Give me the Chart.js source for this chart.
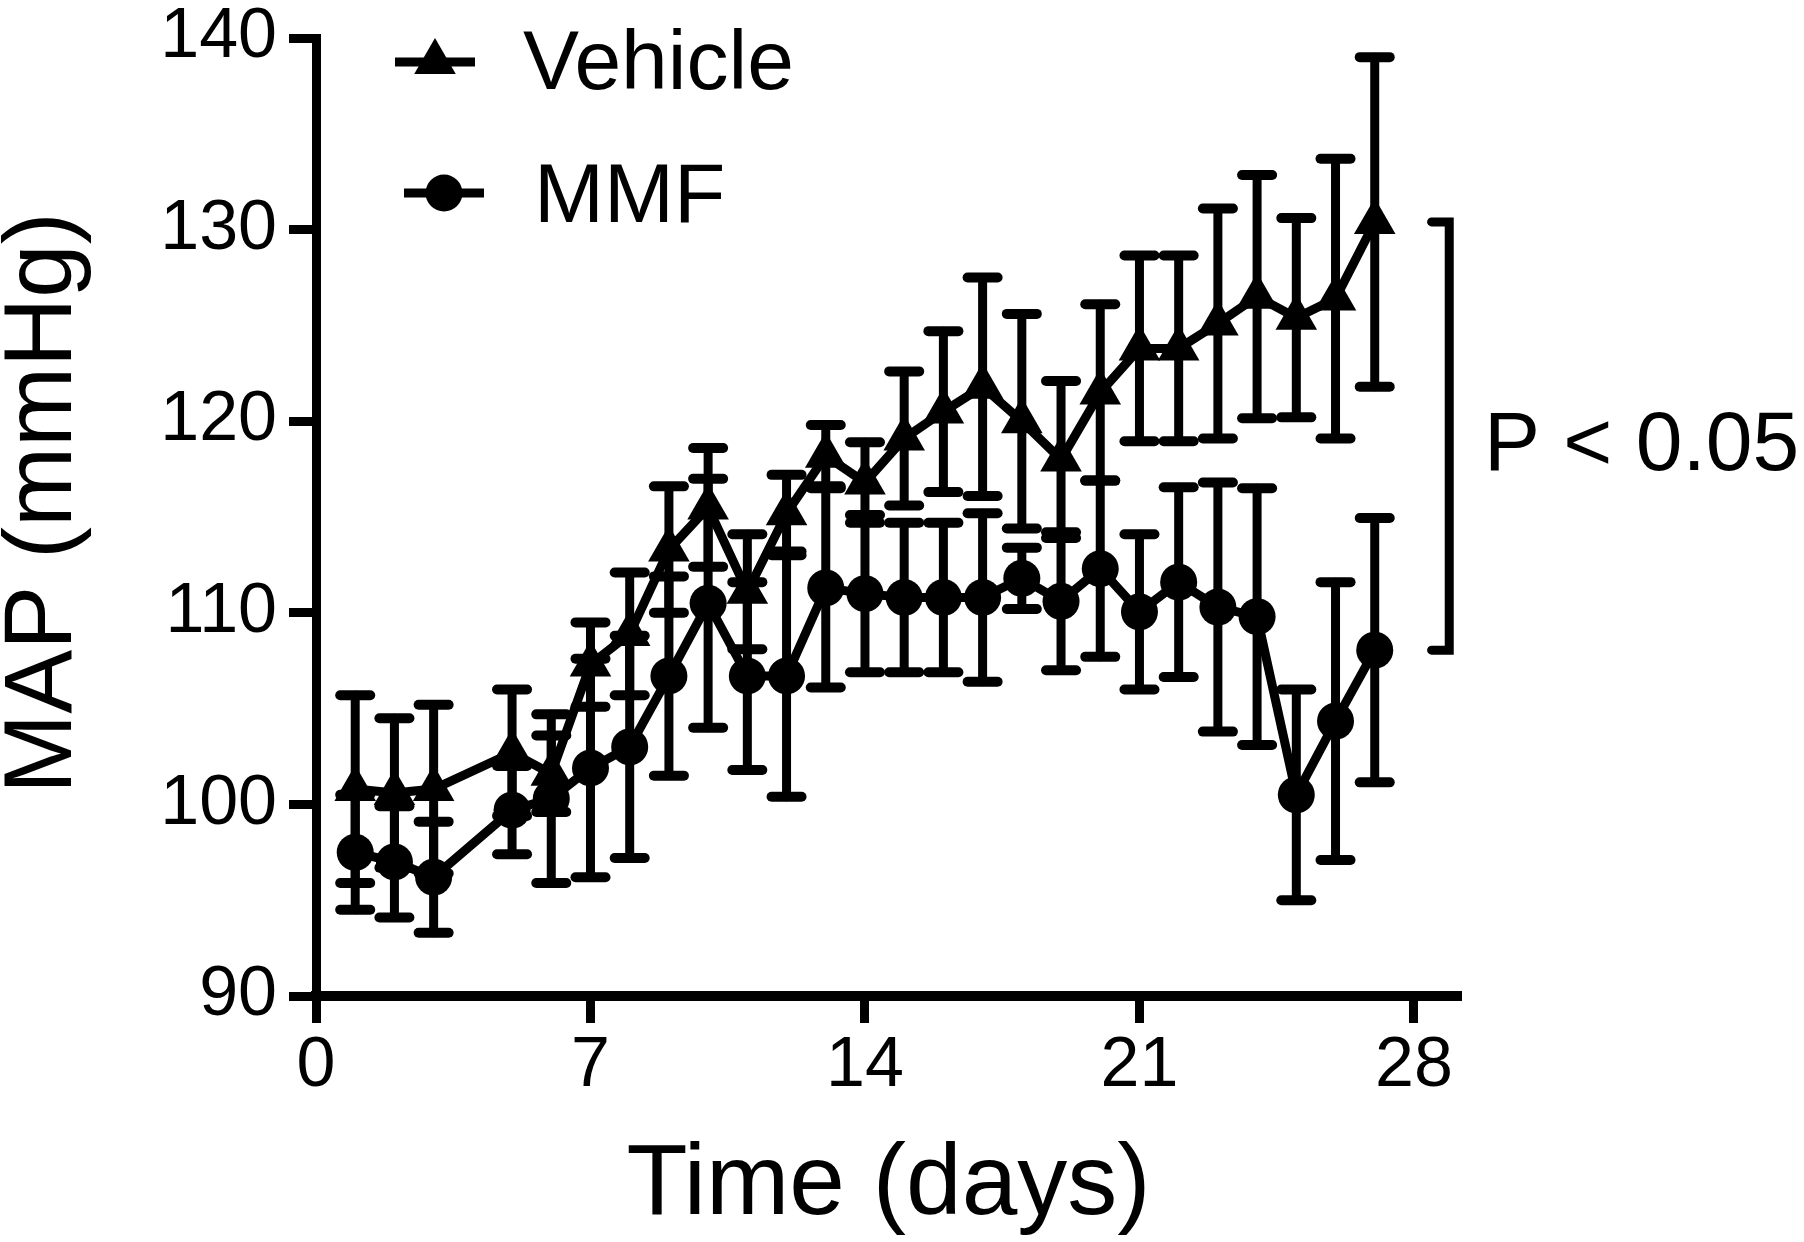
<!DOCTYPE html>
<html>
<head>
<meta charset="utf-8">
<title>MAP over time</title>
<script src="https://cdn.jsdelivr.net/npm/chart.js@4.4.1/dist/chart.umd.min.js"></script>
<style>
html, body { margin: 0; padding: 0; background: #fff; }
#wrap { width: 1804px; height: 1242px; }
</style>
</head>
<body>
<div id="wrap"><canvas id="map" width="1804" height="1242"></canvas></div>
<script>
"use strict";

// values (mean +/- SEM, mmHg)
const days = [1, 2, 3, 5, 6, 7, 8, 9, 10, 11, 12, 13, 14, 15, 16, 17, 18, 19, 20, 21, 22, 23, 24, 25, 26, 27];
const vehicleMean = [100.8, 100.6, 100.8, 102.7, 101.6, 107.3, 108.9, 113.3, 115.5, 111.1, 115.2, 118.2, 116.8,
    119.1, 120.5, 121.8, 120.0, 118.0, 121.5, 123.8, 123.8, 125.1, 126.5, 125.4, 126.4, 130.4];
const vehicleSem = [4.9, 3.9, 4.4, 3.3, 2.0, 2.2, 3.2, 3.3, 3.1, 3.0, 2.0, 1.6, 2.1,
    3.5, 4.2, 5.7, 5.6, 4.1, 4.6, 4.85, 4.85, 6.0, 6.35, 5.2, 7.3, 8.6];
const mmfMean = [97.5, 97.0, 96.2, 99.7, 100.3, 101.9, 103.0, 106.7, 110.5, 106.7, 106.7, 111.3, 111.0,
    110.8, 110.8, 110.8, 111.8, 110.6, 112.3, 110.05, 111.6, 110.3, 109.8, 100.5, 104.35, 108.05];
const mmfSem = [3.0, 2.9, 2.9, 2.3, 4.4, 5.7, 5.8, 5.2, 6.5, 4.9, 6.3, 5.2, 4.1,
    3.9, 3.9, 4.4, 1.6, 3.6, 4.6, 4.05, 4.95, 6.5, 6.7, 5.5, 7.25, 6.9];
const xTicks = [0, 7, 14, 21, 28];
const yTicks = [90, 100, 110, 120, 130, 140];
const seriesNames = ["Vehicle", "MMF"];
const xTitle = "Time (days)";
const yTitle = "MAP (mmHg)";
const pText = "P < 0.05";

const FONT = "'Liberation Sans', Arial, sans-serif";

function points(means, sems) {
    return days.map(function(d, i) {
        return { x: d, y: means[i], sem: sems[i] };
    });
}

function line(ctx, x1, y1, x2, y2) {
    ctx.beginPath();
    ctx.moveTo(x1, y1);
    ctx.lineTo(x2, y2);
    ctx.stroke();
}

const errorBars = {
    id: "errorBars",
    beforeDatasetsDraw(chart) {
        const ctx = chart.ctx;
        const xs = chart.scales.x, ys = chart.scales.y;
        ctx.save();
        ctx.strokeStyle = "#000";
        ctx.lineCap = "round";
        chart.data.datasets.forEach(function(ds) {
            ds.data.forEach(function(p) {
                let x = xs.getPixelForValue(p.x);
                let top = ys.getPixelForValue(p.y + p.sem);
                let bot = ys.getPixelForValue(p.y - p.sem);
                ctx.lineWidth = 9;
                line(ctx, x, top, x, bot);
                ctx.lineWidth = 10;
                line(ctx, x - 15, top, x + 15, top);
                line(ctx, x - 15, bot, x + 15, bot);
            });
        });
        ctx.restore();
    }
};

// legend in the plot corner, y title, significance bracket and its label
const overlay = {
    id: "overlay",
    afterDraw(chart) {
        const ctx = chart.ctx;
        const xs = chart.scales.x, ys = chart.scales.y;
        const rows = [ { x: 435, y: 62, tx: 523, ty: 89 }, { x: 444, y: 193, tx: 534, ty: 222 } ];
        ctx.save();
        ctx.fillStyle = "#000";
        ctx.strokeStyle = "#000";
        ctx.font = "84px " + FONT;
        ctx.textBaseline = "alphabetic";
        chart.data.datasets.forEach(function(ds, i) {
            let r = rows[i];
            ctx.lineWidth = 9;
            ctx.lineCap = "butt";
            line(ctx, r.x - 40, r.y, r.x + 40, r.y);
            Chart.helpers.drawPoint(ctx, {
                pointStyle: ds.pointStyle,
                radius: ds.pointRadius,
                rotation: 0,
                borderWidth: 0
            }, r.x, r.y);
            ctx.fillText(ds.label, r.tx, r.ty);
        });

        let n = days.length - 1;
        let bx = xs.getPixelForValue(28.9);
        let bl = xs.getPixelForValue(28.45);
        let bt = ys.getPixelForValue(vehicleMean[n]);
        let bb = ys.getPixelForValue(mmfMean[n]);
        ctx.lineWidth = 9;
        ctx.lineCap = "round";
        ctx.lineJoin = "miter";
        ctx.beginPath();
        ctx.moveTo(bl, bt);
        ctx.lineTo(bx, bt);
        ctx.lineTo(bx, bb);
        ctx.lineTo(bl, bb);
        ctx.stroke();
        ctx.fillText(pText, 1484, 470);

        ctx.translate(45, 503);
        ctx.rotate(-Math.PI / 2);
        ctx.font = "96px " + FONT;
        ctx.textAlign = "center";
        ctx.textBaseline = "middle";
        ctx.fillText(yTitle, 0, 0);
        ctx.restore();
    }
};

const axisGrid = {
    display: true,
    drawOnChartArea: false,
    drawTicks: true,
    tickLength: 27,
    tickWidth: 9,
    tickColor: "#000",
    color: "#000"
};

new Chart(document.getElementById("map"), {
    type: "line",
    data: {
        datasets: [ {
            label: seriesNames[0],
            data: points(vehicleMean, vehicleSem),
            borderColor: "#000",
            borderWidth: 9,
            backgroundColor: "#000",
            pointStyle: "triangle",
            pointRadius: 24,
            pointBorderWidth: 0,
            pointBackgroundColor: "#000",
            tension: 0,
            clip: false
        }, {
            label: seriesNames[1],
            data: points(mmfMean, mmfSem),
            borderColor: "#000",
            borderWidth: 9,
            backgroundColor: "#000",
            pointStyle: "circle",
            pointRadius: 18.5,
            pointBorderWidth: 0,
            pointBackgroundColor: "#000",
            tension: 0,
            clip: false
        } ]
    },
    options: {
        responsive: false,
        animation: false,
        devicePixelRatio: 1,
        layout: {
            padding: { left: 0, top: 38, right: 343, bottom: 0 }
        },
        plugins: {
            legend: { display: false },
            tooltip: { enabled: false }
        },
        scales: {
            x: {
                type: "linear",
                min: 0,
                max: 29.2,
                afterBuildTicks: function(scale) {
                    scale.ticks = xTicks.map(function(v) { return { value: v }; });
                },
                afterFit: function(scale) {
                    scale.height = 246;
                    scale.paddingLeft = 0;
                    scale.paddingRight = 0;
                },
                ticks: {
                    color: "#000",
                    padding: 9,
                    font: { family: FONT, size: 70, lineHeight: 1.0 }
                },
                grid: axisGrid,
                border: { display: true, width: 10, color: "#000" },
                title: {
                    display: true,
                    text: xTitle,
                    color: "#000",
                    padding: { top: 0, bottom: 1 },
                    font: { family: FONT, size: 100, lineHeight: 1.1 }
                }
            },
            y: {
                type: "linear",
                min: 90,
                max: 140,
                afterBuildTicks: function(scale) {
                    scale.ticks = yTicks.map(function(v) { return { value: v }; });
                },
                afterFit: function(scale) {
                    scale.width = 316;
                    scale.paddingTop = 0;
                    scale.paddingBottom = 0;
                },
                ticks: {
                    color: "#000",
                    padding: 12,
                    font: { family: FONT, size: 70, lineHeight: 1.0 }
                },
                grid: axisGrid,
                border: { display: true, width: 9, color: "#000" }
            }
        }
    },
    plugins: [ errorBars, overlay ]
});
</script>
</body>
</html>
